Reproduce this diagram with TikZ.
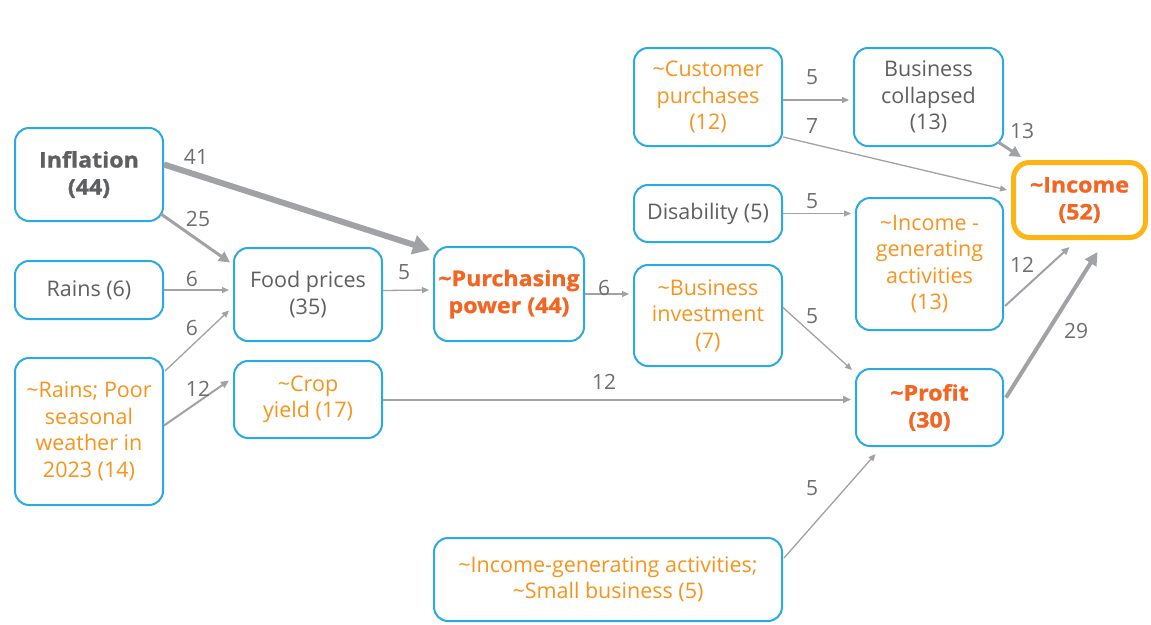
\documentclass[tikz,border=0pt]{standalone}
\usepackage{fontspec}
\setmainfont{Open Sans}
\usetikzlibrary{arrows.meta,calc}
\definecolor{bbox}{HTML}{2AAAE2}
\definecolor{ortxt}{HTML}{F7941D}
\definecolor{orbold}{HTML}{F26522}
\definecolor{gtxt}{HTML}{5E5F61}
\definecolor{ltxt}{HTML}{6D6E71}
\definecolor{arr}{HTML}{A0A2A5}
\definecolor{gold}{HTML}{FDB515}
\tikzset{
  box/.style={draw=bbox, line width=2pt, rounded corners=14pt, align=center, inner sep=0pt,
    font=\fontsize{21.5}{26.5}\selectfont, text=gtxt},
  obox/.style={box, text=ortxt},
  bbold/.style={box, font=\fontsize{21.5}{27}\selectfont\bfseries\addfontfeatures{FakeStretch=1.08,FakeBold=1.2}},
  obold/.style={bbold, text=orbold},
  lbl/.style={font=\fontsize{21}{24}\selectfont, text=ltxt, inner sep=0pt},
  athin/.style={draw=arr, line width=1.3pt, -{Triangle[length=7pt,width=6pt]}},
  atwo/.style={draw=arr, line width=2pt, -{Triangle[length=8pt,width=7pt]}},
  amed/.style={draw=arr, line width=3pt, -{Triangle[length=11pt,width=11pt]}},
  afour/.style={draw=arr, line width=4pt, -{Triangle[length=13pt,width=13pt]}},
  athick/.style={draw=arr, line width=6pt, -{Triangle[length=17pt,width=19pt]}},
}
\begin{document}
\begin{tikzpicture}[x=1pt,y=-1pt]
\path[use as bounding box, fill=white] (0,0) rectangle (1151,624);

% nodes
\node[bbold, minimum width=148, minimum height=93] (infl) at (89,174.5) {Inflation\\(44)};
\node[box, minimum width=148, minimum height=58] (rains) at (89,290) {Rains (6)};
\node[obox, minimum width=148, minimum height=147] (rpoor) at (89,431.5) {\textasciitilde Rains; Poor\\seasonal\\weather in\\2023 (14)};
\node[box, minimum width=148, minimum height=93] (food) at (308,294.5) {Food prices\\(35)};
\node[obox, minimum width=148, minimum height=77] (crop) at (308,399.5) {\textasciitilde Crop\\yield (17)};
\node[obold, minimum width=150, minimum height=94] (purch) at (509,294) {\textasciitilde Purchasing\\power (44)};
\node[obox, minimum width=148, minimum height=98] (cust) at (708,97) {\textasciitilde Customer\\purchases\\(12)};
\node[box, minimum width=148, minimum height=57] (disab) at (708,213.5) {Disability (5)};
\node[obox, minimum width=148, minimum height=101] (binv) at (708,315.5) {\textasciitilde Business\\investment\\(7)};
\node[box, minimum width=149, minimum height=98] (bcoll) at (928.5,97) {Business\\collapsed\\(13)};
\node[obox, minimum width=147, minimum height=132] (igen) at (929.5,264) {\textasciitilde Income -\\generating\\activities\\(13)};
\node[obold, draw=gold, line width=5pt, rounded corners=16pt, minimum width=132, minimum height=75] (income) at (1079.5,200) {\textasciitilde Income\\(52)};
\node[obold, minimum width=147, minimum height=77] (profit) at (929.5,407.5) {\textasciitilde Profit\\(30)};
\node[obox, minimum width=348, minimum height=83] (small) at (608,579.5) {\textasciitilde Income-generating activities;\\\textasciitilde Small business (5)};

% connectors
\draw[athick] ($(infl.east)+(0,-10)$) -- ($(purch.north west)+(-3,4)$);
\draw[amed] ($(infl.south east)+(-3,-8)$) -- ($(food.west)+(-3,-32)$);
\draw[athin, shorten >=4pt] (rains.east) -- (rains.east -| food.west);
\draw[athin] ($(rpoor.north east)+(1,14)$) -- ($(food.west)+(-4,16)$);
\draw[atwo] ($(rpoor.east)+(0,-6)$) -- ($(crop.west)+(-4,-19)$);
\draw[athin] ($(food.east)+(0,-4)$) -- ($(purch.west)+(-4,-4)$);
\draw[atwo, shorten >=4pt] (crop.east) -- (crop.east -| profit.west);
\draw[athin, shorten >=4pt] (purch.east) -- (purch.east -| binv.west);
\draw[athin] ($(cust.east)+(0,3)$) -- ($(bcoll.west)+(-4,3)$);
\draw[athin] ($(cust.east)+(0,40)$) -- ($(income.west)+(-4,-10)$);
\draw[athin, shorten >=4pt] (disab.east) -- (disab.east -| igen.west);
\draw[athin] ($(binv.east)+(0,-8)$) -- ($(profit.north west)+(-3,2)$);
\draw[amed] ($(bcoll.south east)+(-6,-5)$) -- ($(income.north west)+(10,-3)$);
\draw[atwo] ($(igen.east)+(1,42)$) -- ($(income.south)+(-10,7)$);
\draw[afour] ($(profit.east)+(2,-10)$) -- ($(income.south)+(18,12)$);
\draw[athin] ($(small.north east)+(1,21)$) -- ($(profit.south)+(-54,7)$);

% labels
\node[lbl] (l41) at (196,157) {41};
\node[lbl] (l25) at (198,219) {25};
\node[lbl] (l6a) at (192,279) {6};
\node[lbl] (l6b) at (192,328) {6};
\node[lbl] (l12a) at (198,389) {12};
\node[lbl] (l5a) at (404,272) {5};
\node[lbl] (l12b) at (604,382) {12};
\node[lbl] (l6c) at (604,288) {6};
\node[lbl] (l5b) at (812,77) {5};
\node[lbl] (l7) at (812,126) {7};
\node[lbl] (l5c) at (812,201) {5};
\node[lbl] (l5d) at (812,316) {5};
\node[lbl] (l13) at (1022,131) {13};
\node[lbl] (l12c) at (1022,265) {12};
\node[lbl] (l29) at (1076,331) {29};
\node[lbl] (l5e) at (812,488) {5};
\end{tikzpicture}
\end{document}
